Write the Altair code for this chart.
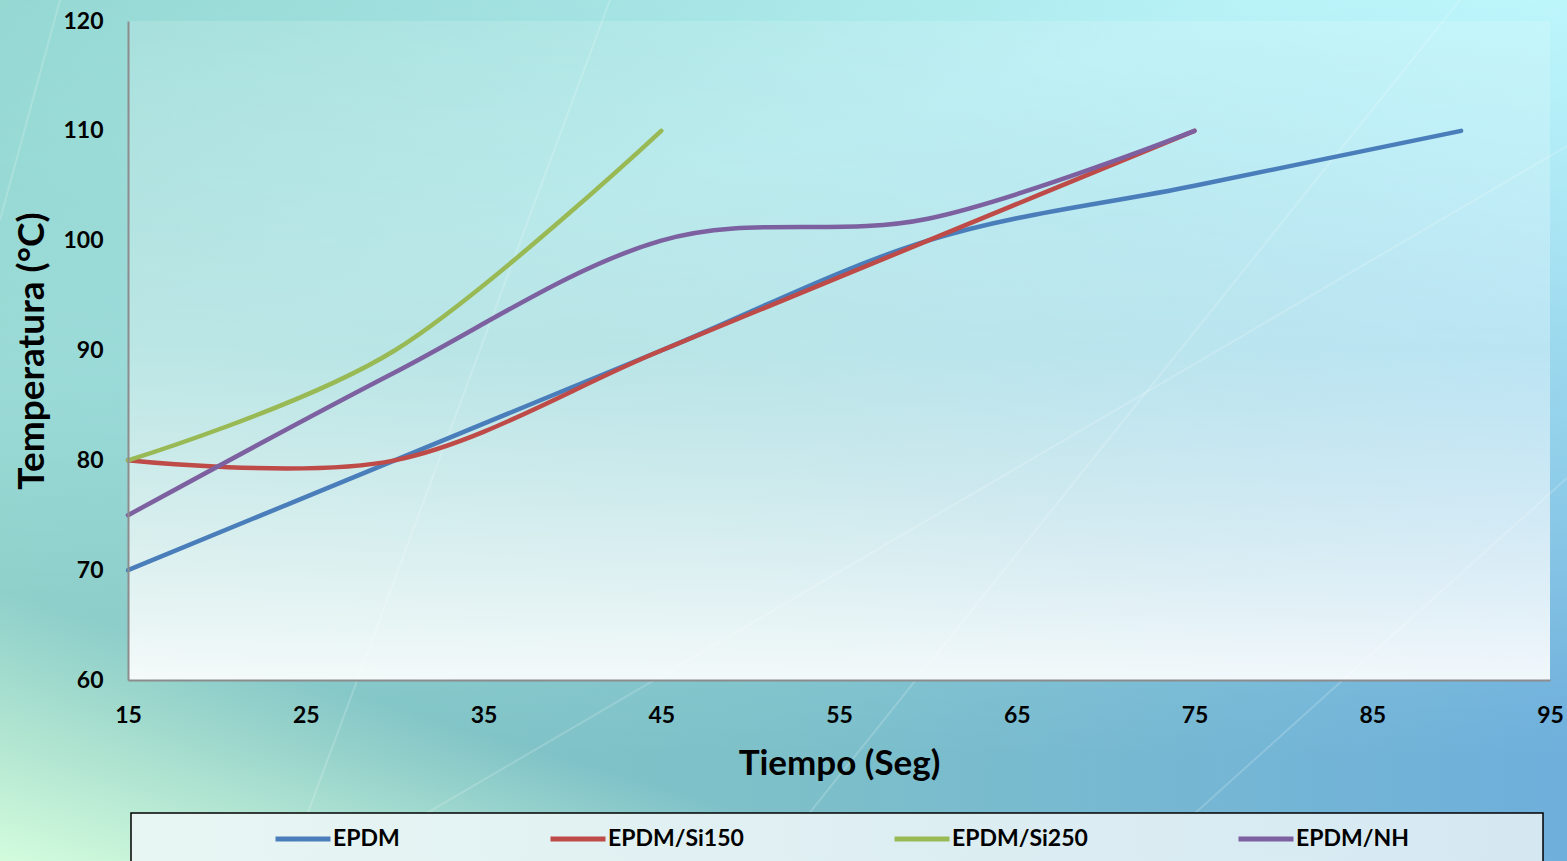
import altair as alt
import pandas as pd

# Temperature readings (°C) against time (s) for each compound
series_names = ["EPDM", "EPDM/Si150", "EPDM/Si250", "EPDM/NH"]
series_colors = ["#4A7EBB", "#BE4B48", "#98B954", "#7D60A0"]

time_epdm = [15, 30, 45, 60, 75, 90]
temp_epdm = [70, 80, 90, 100, 105, 110]

time_si150 = [15, 30, 45, 60, 75]
temp_si150 = [80, 80, 90, 100, 110]

time_si250 = [15, 30, 45]
temp_si250 = [80, 90, 110]

time_nh = [15, 30, 45, 60, 75]
temp_nh = [75, 88, 100, 102, 110]

x_ticks = [15, 25, 35, 45, 55, 65, 75, 85, 95]
y_ticks = [60, 70, 80, 90, 100, 110, 120]

rows = []
for name, ts, vs in [
    ("EPDM", time_epdm, temp_epdm),
    ("EPDM/Si150", time_si150, temp_si150),
    ("EPDM/Si250", time_si250, temp_si250),
    ("EPDM/NH", time_nh, temp_nh),
]:
    for i, (t, v) in enumerate(zip(ts, vs)):
        rows.append({"serie": name, "tiempo": t, "temp": v, "orden": i})
df = pd.DataFrame(rows)

W, H = 1422, 659
PAD_L, PAD_T, PAD_R, PAD_B = 128, 21, 17, 181

one = pd.DataFrame({"k": [0]})
base = alt.Chart(one)
full = dict(
    x=alt.value(-PAD_L), x2=alt.value(W + PAD_R),
    y=alt.value(-PAD_T), y2=alt.value(H + PAD_B),
)

# Slide-style backdrop: teal on the left to blue on the right
bg_main = base.mark_rect(
    fill=alt.LinearGradient(
        gradient="linear", x1=0, y1=0, x2=1, y2=0,
        stops=[
            alt.GradientStop(color="#86c8c2", offset=0),
            alt.GradientStop(color="#7dc0c9", offset=0.5),
            alt.GradientStop(color="#6eafdc", offset=1),
        ],
    )
).encode(**full)

# lighter towards the top
bg_top = base.mark_rect(
    fill=alt.LinearGradient(
        gradient="linear", x1=0, y1=0, x2=0, y2=1,
        stops=[
            alt.GradientStop(color="rgba(195,255,255,0.62)", offset=0),
            alt.GradientStop(color="rgba(195,255,255,0.3)", offset=0.5),
            alt.GradientStop(color="rgba(195,255,255,0.0)", offset=0.88),
        ],
    )
).encode(**full)

# bright cyan towards the upper-right corner
bg_bright = base.mark_rect(
    fill=alt.LinearGradient(
        gradient="linear", x1=1, y1=0, x2=0.65, y2=0.6,
        stops=[
            alt.GradientStop(color="rgba(200,255,255,0.7)", offset=0),
            alt.GradientStop(color="rgba(200,255,255,0.25)", offset=0.5),
            alt.GradientStop(color="rgba(200,255,255,0.0)", offset=1),
        ],
    )
).encode(**full)

# pale green glow in the lower-left corner
bg_corner = base.mark_rect(
    fill=alt.LinearGradient(
        gradient="linear", x1=0, y1=1, x2=0.131, y2=0.756,
        stops=[
            alt.GradientStop(color="rgba(215,255,222,0.95)", offset=0),
            alt.GradientStop(color="rgba(215,255,222,0.5)", offset=0.5),
            alt.GradientStop(color="rgba(215,255,222,0.0)", offset=1),
        ],
    )
).encode(**full)

# deeper teal in the upper-left corner
bg_shade = base.mark_rect(
    fill=alt.LinearGradient(
        gradient="linear", x1=0, y1=0, x2=0.2, y2=0.35,
        stops=[
            alt.GradientStop(color="rgba(110,185,175,0.4)", offset=0),
            alt.GradientStop(color="rgba(110,185,175,0.0)", offset=1),
        ],
    )
).encode(**full)

# Faint light streaks across the backdrop
streaks = pd.DataFrame({
    "x0": [290 - PAD_L, 345 - PAD_L, 771 - PAD_L, 1142 - PAD_L, 60 - PAD_L],
    "y0": [861 - PAD_T, 861 - PAD_T, 861 - PAD_T, 861 - PAD_T, 0 - PAD_T],
    "x1": [610 - PAD_L, 1567 - PAD_L, 1460 - PAD_L, 1567 - PAD_L, 0 - PAD_L],
    "y1": [0 - PAD_T, 146 - PAD_T, 0 - PAD_T, 478 - PAD_T, 220 - PAD_T],
})
streak_layer = alt.Chart(streaks).mark_rule(
    color="white", strokeWidth=2, opacity=0.18
).encode(
    x=alt.X("x0:Q", scale=None), y=alt.Y("y0:Q", scale=None),
    x2="x1:Q", y2="y1:Q",
)

# Plot area wash, fading to near-white at the bottom
plot_wash = base.mark_rect(
    fill=alt.LinearGradient(
        gradient="linear", x1=0, y1=0, x2=0, y2=1,
        stops=[
            alt.GradientStop(color="rgba(255,255,255,0.14)", offset=0),
            alt.GradientStop(color="rgba(255,255,255,0.32)", offset=0.5),
            alt.GradientStop(color="rgba(255,255,255,0.9)", offset=1),
        ],
    )
).encode(x=alt.value(0), x2=alt.value(W), y=alt.value(0), y2=alt.value(H))

# Legend frame
legend_box = base.mark_rect(
    fill=alt.LinearGradient(
        gradient="linear", x1=0, y1=0, x2=1, y2=0,
        stops=[
            alt.GradientStop(color="#e8f6f3", offset=0),
            alt.GradientStop(color="#d5e8f2", offset=1),
        ],
    ),
    stroke="black", strokeWidth=1.5,
).encode(x=alt.value(3), x2=alt.value(1415), y=alt.value(792), y2=alt.value(860))

lines = alt.Chart(df).mark_line(
    interpolate="cardinal", strokeWidth=4.5, strokeCap="round"
).encode(
    x=alt.X(
        "tiempo:Q",
        scale=alt.Scale(domain=[15, 95], nice=False, zero=False),
        axis=alt.Axis(
            values=x_ticks, title="Tiempo (Seg)", grid=False, ticks=False,
            domainColor="#8c8c8c", domainWidth=2, zindex=1,
            labelFont="Lato", labelFontWeight="bold", labelFontSize=23,
            labelColor="black", labelPadding=24, labelFlush=False,
            titleFont="Lato", titleFontWeight="bold", titleFontSize=35,
            titleColor="black", titleY=83, titleBaseline="middle",
        ),
    ),
    y=alt.Y(
        "temp:Q",
        scale=alt.Scale(domain=[60, 120], nice=False, zero=False),
        axis=alt.Axis(
            values=y_ticks, title="Temperatura (°C)", grid=False, ticks=False,
            domainColor="#8c8c8c", domainWidth=2, zindex=1,
            labelFont="Lato", labelFontWeight="bold", labelFontSize=23,
            labelColor="black", labelPadding=25, labelFlush=False,
            titleFont="Lato", titleFontWeight="bold", titleFontSize=37,
            titleColor="black", titleAngle=-90, titleX=-96, titleY=H / 2,
            titleBaseline="middle", titleAlign="center",
        ),
    ),
    color=alt.Color(
        "serie:N",
        scale=alt.Scale(domain=series_names, range=series_colors),
        sort=series_names,
        legend=alt.Legend(
            title=None, orient="none", direction="horizontal", columns=4,
            legendX=145, legendY=788, padding=0,
            symbolType="stroke", symbolSize=3025, symbolStrokeWidth=5,
            labelFont="Lato", labelFontWeight="bold", labelFontSize=23,
            labelColor="black", labelOffset=0, columnPadding=140,
        ),
    ),
    order="orden:Q",
)

chart = alt.layer(
    bg_main, bg_top, bg_bright, bg_corner, bg_shade, streak_layer,
    plot_wash, legend_box, lines
).properties(
    width=W, height=H,
    autosize=alt.AutoSizeParams(type="none"),
    padding={"left": PAD_L, "top": PAD_T, "right": PAD_R, "bottom": PAD_B},
).configure_view(stroke=None).configure(background="#9fd8d6")

chart.save("out.html", embed_options={"renderer": "svg", "actions": False})
